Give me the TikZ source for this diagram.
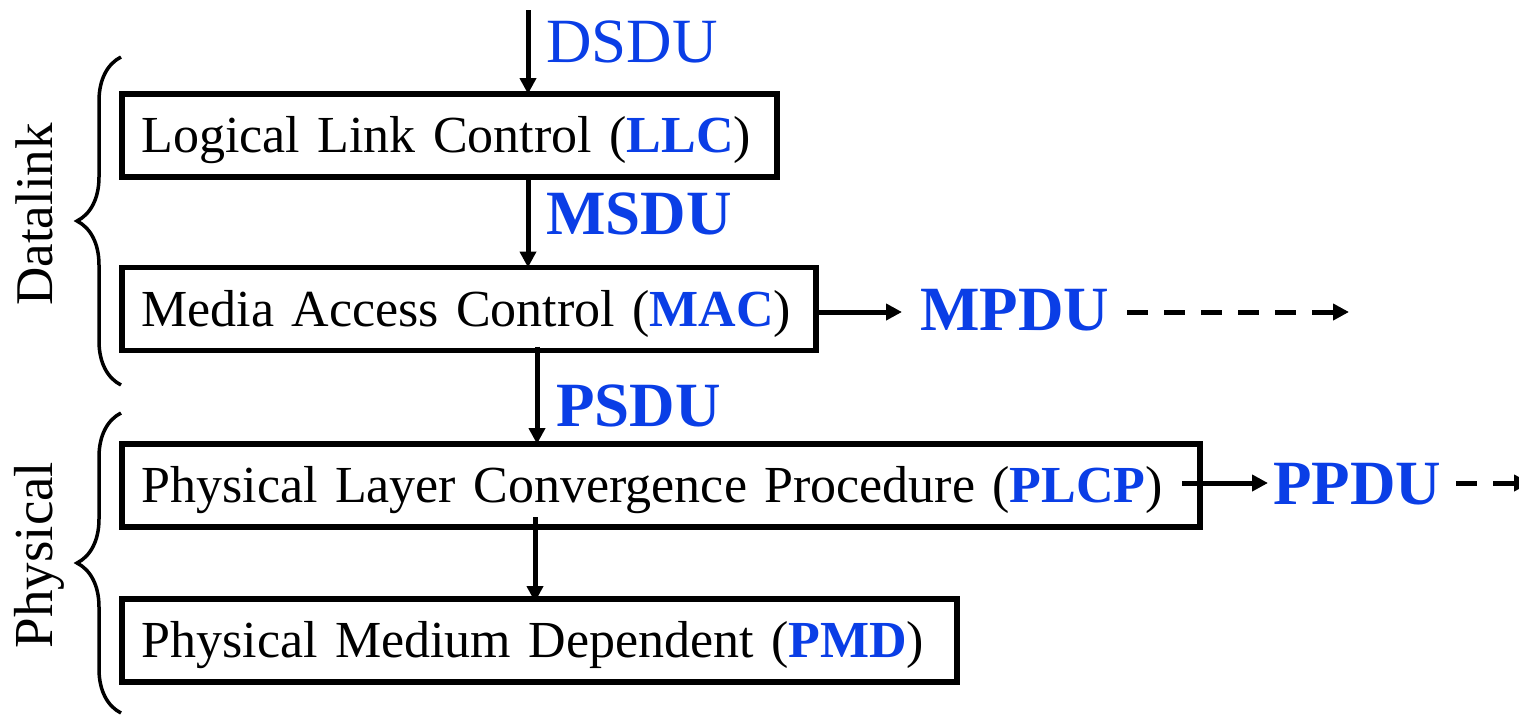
\documentclass[tikz,border=0pt]{standalone}
\usepackage{fontspec}
\setmainfont{Liberation Serif}
\usetikzlibrary{arrows.meta,decorations.pathreplacing}
\definecolor{lblue}{RGB}{10,62,230}
\begin{document}
\begin{tikzpicture}[x=1pt,y=-1pt,
  box/.style={draw, line width=5.5pt, anchor=west, outer sep=0pt, inner xsep=19.5pt, inner ysep=0pt,
    minimum height=83pt, text height=34.5pt, text depth=0pt, align=left, font=\fontsize{52}{60}\selectfont},
  lab/.style={anchor=base west, inner sep=0pt, text=lblue, font=\fontsize{63}{70}\selectfont\bfseries},
  labn/.style={lab, font=\fontsize{63}{70}\selectfont},
  arr/.style={line width=5pt, -{Triangle[length=16pt,width=16pt]}},
  darr/.style={arr, dash pattern=on 21pt off 16pt},
  brc/.style={line width=3.5pt, decorate, decoration={brace, amplitude=44pt}},
  side/.style={rotate=90, anchor=base, inner sep=0pt, font=\fontsize{53}{60}\selectfont}]
\fill[white] (0,0) rectangle (1519,715);
\useasboundingbox (0,0) rectangle (1519,715);

% boxes
\node[box, text width=616pt] (llc) at (122,135.5) {\mbox{Logical Link Control (\textcolor{lblue}{\textbf{LLC}})}};
\node[box, text width=655pt] (mac) at (122,309) {\mbox{Media Access Control (\textcolor{lblue}{\textbf{MAC}})}};
\node[box, text width=1039pt] (plcp) at (122,485.5) {\mbox{Physical Layer Convergence Procedure (\textcolor{lblue}{\textbf{PLCP}})}};
\node[box, text width=796pt] (pmd) at (122,640.5) {\mbox{Physical Medium Dependent (\textcolor{lblue}{\textbf{PMD}})}};

% labels
\node[labn] (dsdu) at (546,62) {DSDU};
\node[lab] (msdu) at (546,234) {MSDU};
\node[lab] (mpdu) at (920,330) {MPDU};
\node[lab] (psdu) at (556,426) {PSDU};
\node[lab] (ppdu) at (1273,504) {PPDU};

% side labels
\node[side] (dl) at (52,214.5) {Datalink};
\node[side, font=\fontsize{55}{60}\selectfont] (ph) at (52,555) {Physical};

% helper coordinates
\coordinate (din) at (528,10);
\coordinate (px) at (537,0);
\coordinate (qx) at (535,0);
\coordinate (my) at (0,312);
\coordinate (py) at (0,483);
\coordinate (mend) at (1349,312);
\coordinate (pend) at (1530,483);

% vertical arrows
\draw[arr] (din) -- (din |- llc.north);
\draw[arr] (llc.south -| din) -- (mac.north -| din);
\draw[arr, shorten <=-4pt] (mac.south -| px) -- (plcp.north -| px);
\draw[arr, shorten <=-10pt, shorten >=-3pt] (plcp.south -| qx) -- (pmd.north -| qx);

% horizontal arrows
\draw[arr, shorten >=18pt] (mac.east |- my) -- (mpdu.west |- my);
\draw[darr, shorten <=18pt] (mpdu.east |- my) -- (mend);
\draw[arr, shorten <=-18pt, shorten >=5pt] (plcp.east |- py) -- (ppdu.west |- py);
\draw[darr, shorten <=15pt] (ppdu.east |- py) -- (pend);

% braces
\coordinate (b1a) at (121,385);
\coordinate (b1b) at (121,57);
\coordinate (b2a) at (121,713);
\coordinate (b2b) at (121,413);
\draw[brc] (b1a) -- (b1b);
\draw[brc] (b2a) -- (b2b);
\end{tikzpicture}
\end{document}
